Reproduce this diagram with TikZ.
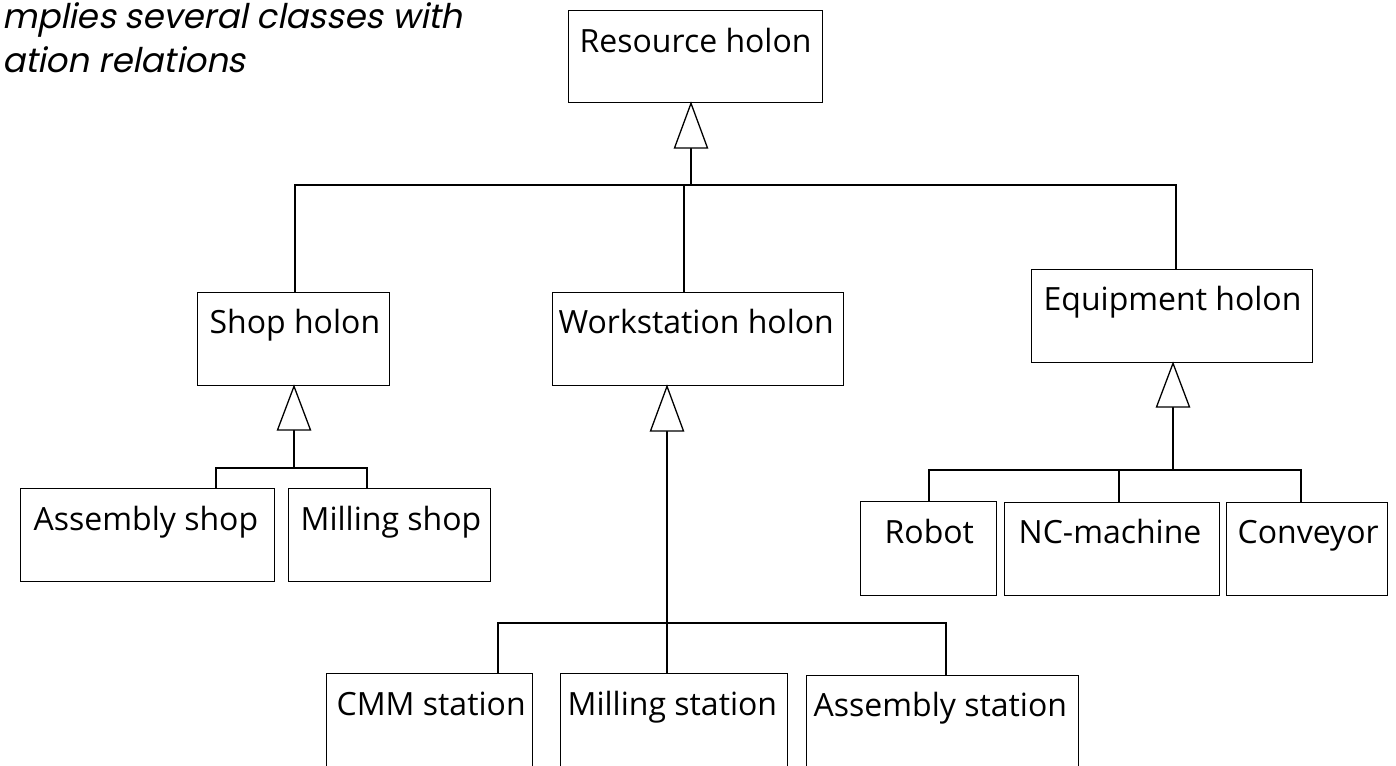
\documentclass[tikz,border=0pt]{standalone}
\usepackage{fontspec}
\newfontfamily\boxfont{Open Sans}
\newfontfamily\notefont[FakeSlant=0.2]{Poppins}
\begin{document}
\begin{tikzpicture}[x=1pt,y=-1pt,
  box/.style={draw, line width=1.3pt, anchor=north west, inner ysep=0pt,
    font=\boxfont\fontsize{32}{38}\selectfont},
  conn/.style={line width=1.3pt},
  tri/.style={draw, fill=white, line width=1.3pt, line join=miter},
  note/.style={anchor=base west, inner sep=0pt, text=black,
    font=\notefont\fontsize{34}{40}\selectfont}]
\useasboundingbox (0,0) rectangle (1396,765);
\clip (0,0) rectangle (1396,765);

% note text
\node[note] (n1) at (2,29) {mplies several classes with};
\node[note] (n2) at (2,73) {ation relations};

% boxes
\node[box, inner xsep=11pt, text height=42pt, text depth=50pt] (res) at (568,10) {\makebox[232pt][l]{Resource holon}};
\node[box, inner xsep=12pt, text height=41pt, text depth=52pt] (shop) at (197,292) {\makebox[168pt][l]{Shop holon}};
\node[box, inner xsep=6pt, text height=41pt, text depth=52pt] (ws) at (552,292) {\makebox[279pt][l]{Workstation holon}};
\node[box, inner xsep=12pt, text height=41pt, text depth=52pt] (eq) at (1031,269) {\makebox[257pt][l]{Equipment holon}};
\node[box, inner xsep=13pt, text height=42pt, text depth=51pt] (ashop) at (20,488) {\makebox[228pt][l]{Assembly shop}};
\node[box, inner xsep=12pt, text height=42pt, text depth=51pt] (mshop) at (288,488) {\makebox[178pt][l]{Milling shop}};
\node[box, inner xsep=24pt, text height=42pt, text depth=52pt] (robot) at (860,501) {\makebox[88pt][l]{Robot}};
\node[box, inner xsep=14pt, text height=41pt, text depth=52pt] (nc) at (1004,502) {\makebox[187pt][l]{NC-machine}};
\node[box, inner xsep=11pt, text height=41pt, text depth=52pt] (conv) at (1226,502) {\makebox[139pt][l]{Conveyor}};
\node[box, inner xsep=10pt, text height=42pt, text depth=51pt] (cmm) at (326,673) {\makebox[186pt][l]{CMM station}};
\node[box, inner xsep=7pt, text height=42pt, text depth=51pt] (mst) at (560,673) {\makebox[213pt][l]{Milling station}};
\node[box, inner xsep=7pt, text height=41pt, text depth=52pt] (ast) at (806,675) {\makebox[258pt][l]{Assembly station}};

% Resource holon generalisation
\coordinate (rT) at (691,148);
\coordinate (rB) at (691,185);
\coordinate (kS) at (295,185);
\coordinate (kW) at (684,185);
\coordinate (kE) at (1176,185);
\draw[conn] (rT) -- (rB);
\draw[conn] (shop.north -| kS) |- (kE) -- (eq.north -| kE);
\draw[conn] (kW) -- (ws.north -| kW);
\draw[tri] (res.south -| rT) -- ([xshift=-16.5pt]rT) -- ([xshift=16.5pt]rT) -- cycle;

% Shop holon
\coordinate (sT) at (294,430);
\coordinate (sB) at (294,468);
\coordinate (kA) at (216,468);
\coordinate (kM) at (367,468);
\draw[conn] (sT) -- (sB);
\draw[conn] (ashop.north -| kA) |- (kM) -- (mshop.north -| kM);
\draw[tri] (shop.south -| sT) -- ([xshift=-16.5pt]sT) -- ([xshift=16.5pt]sT) -- cycle;

% Workstation holon
\coordinate (wT) at (667,431);
\coordinate (kC) at (498,623);
\coordinate (kT) at (946,623);
\draw[conn] (wT) -- (mst.north -| wT);
\draw[conn] (cmm.north -| kC) |- (kT) -- (ast.north -| kT);
\draw[tri] (ws.south -| wT) -- ([xshift=-16.5pt]wT) -- ([xshift=16.5pt]wT) -- cycle;

% Equipment holon
\coordinate (eT) at (1173,407);
\coordinate (eB) at (1173,470);
\coordinate (kR) at (929,470);
\coordinate (kN) at (1119,470);
\coordinate (kV) at (1301,470);
\draw[conn] (eT) -- (eB);
\draw[conn] (robot.north -| kR) |- (kV) -- (conv.north -| kV);
\draw[conn] (kN) -- (nc.north -| kN);
\draw[tri] (eq.south -| eT) -- ([xshift=-16.5pt]eT) -- ([xshift=16.5pt]eT) -- cycle;
\end{tikzpicture}
\end{document}
